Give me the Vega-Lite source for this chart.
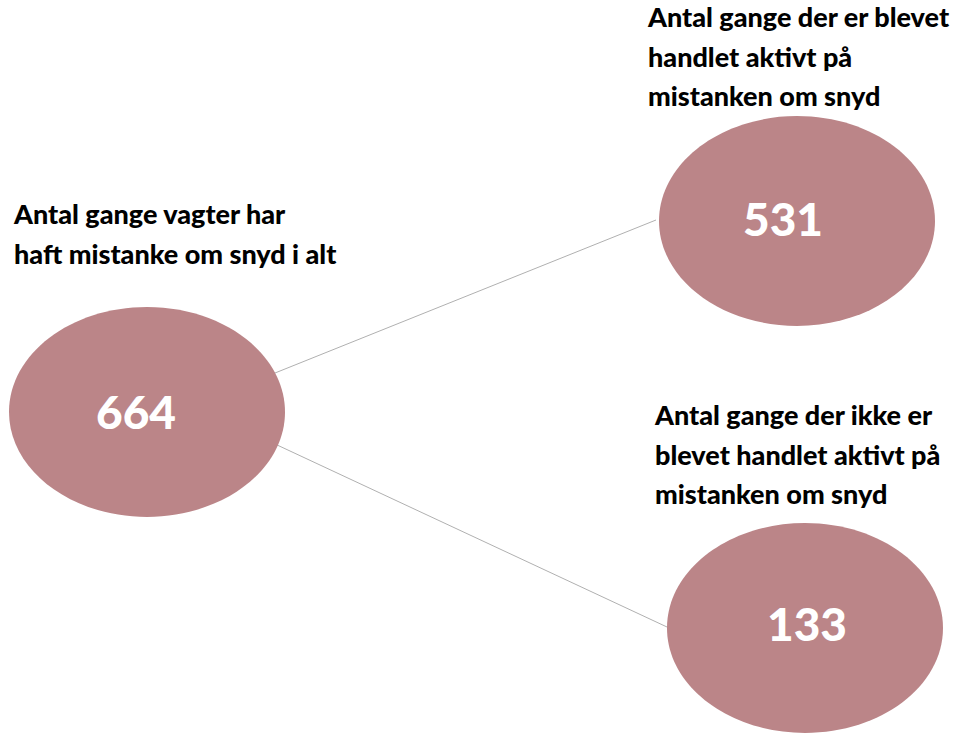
{
  "$schema": "https://vega.github.io/schema/vega-lite/v6.json",
  "width": 957,
  "height": 733,
  "padding": 0,
  "autosize": {"type": "none"},
  "background": "white",
  "config": {"view": {"stroke": null}},
  "datasets": {
    "nodes": [
      {"id": "total", "value": "664", "cx": 147, "cy": 412, "tx": 136, "ty": 413, "label": "Antal gange vagter har\nhaft mistanke om snyd i alt", "lx": 14, "ly": 224},
      {"id": "active", "value": "531", "cx": 797, "cy": 221, "tx": 783, "ty": 220, "label": "Antal gange der er blevet\nhandlet aktivt på\nmistanken om snyd", "lx": 648, "ly": 27},
      {"id": "passive", "value": "133", "cx": 805, "cy": 628, "tx": 807, "ty": 625, "label": "Antal gange der ikke er\nblevet handlet aktivt på\nmistanken om snyd", "lx": 655, "ly": 425}
    ],
    "links": [
      {"from": "total", "to": "active", "x1": 275, "y1": 373, "x2": 656, "y2": 220},
      {"from": "total", "to": "passive", "x1": 275, "y1": 444, "x2": 667, "y2": 627}
    ]
  },
  "layer": [
    {
      "data": {"name": "links"},
      "mark": {"type": "rule", "color": "#b0b0b0", "strokeWidth": 1},
      "encoding": {
        "x": {"field": "x1", "type": "quantitative", "scale": {"domain": [0, 957], "nice": false, "zero": false}, "axis": null},
        "y": {"field": "y1", "type": "quantitative", "scale": {"domain": [0, 733], "nice": false, "zero": false, "reverse": true}, "axis": null},
        "x2": {"field": "x2"},
        "y2": {"field": "y2"}
      }
    },
    {
      "data": {"name": "nodes"},
      "mark": {"type": "point", "filled": true, "opacity": 1, "color": "#bb8588", "shape": "M-1,0A1,0.76,0,1,0,1,0A1,0.76,0,1,0,-1,0Z", "size": 76176},
      "encoding": {
        "x": {"field": "cx", "type": "quantitative"},
        "y": {"field": "cy", "type": "quantitative"}
      }
    },
    {
      "data": {"name": "nodes"},
      "mark": {"type": "text", "color": "white", "font": "Lato", "fontWeight": 900, "fontSize": 46, "align": "center", "baseline": "middle", "dy": 2},
      "encoding": {
        "x": {"field": "tx", "type": "quantitative"},
        "y": {"field": "ty", "type": "quantitative"},
        "text": {"field": "value"}
      }
    },
    {
      "data": {"name": "nodes"},
      "mark": {"type": "text", "color": "black", "font": "Lato", "fontWeight": 900, "fontSize": 27, "align": "left", "baseline": "alphabetic", "lineBreak": "\n", "lineHeight": 39.5},
      "encoding": {
        "x": {"field": "lx", "type": "quantitative"},
        "y": {"field": "ly", "type": "quantitative"},
        "text": {"field": "label"}
      }
    }
  ]
}
